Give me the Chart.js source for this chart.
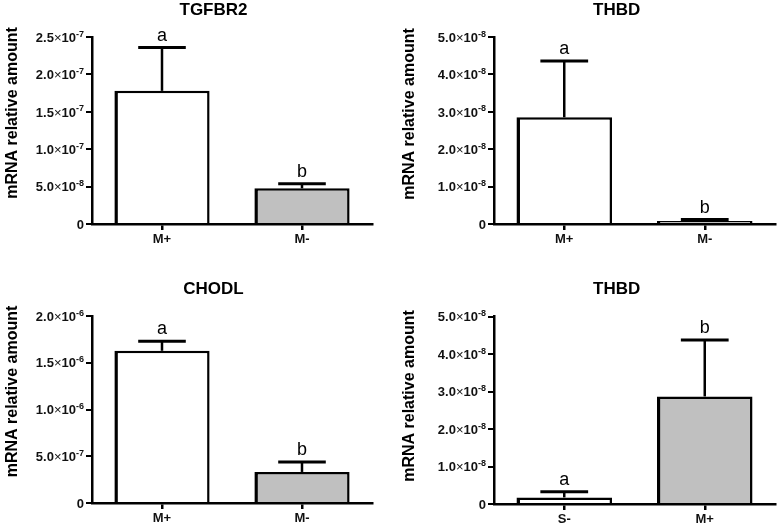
<!DOCTYPE html>
<html>
<head>
  <title>mRNA relative amount</title>
  <script src="https://cdn.jsdelivr.net/npm/chart.js"></script>
  <style>
    body { margin: 0; background: #fff; }
    #wrap { position: relative; width: 780px; height: 527px; }
    #wrap canvas { position: absolute; }
  </style>
</head>
<body>
  <div id="wrap">
    <canvas id="c0"></canvas>
    <canvas id="c1"></canvas>
    <canvas id="c2"></canvas>
    <canvas id="c3"></canvas>
  </div>

  <script>
    // Values
    const titles = ['TGFBR2', 'THBD', 'CHODL', 'THBD'];
    const categories = [['M+', 'M-'], ['M+', 'M-'], ['M+', 'M-'], ['S-', 'M+']];
    const means = [[1.78e-7, 0.477e-7], [2.853e-8, 0.08e-8], [1.628e-6, 0.332e-6], [0.176e-8, 2.868e-8]];
    const errors = [[0.579e-7, 0.062e-7], [1.505e-8, 0.04e-8], [0.101e-6, 0.107e-6], [0.152e-8, 1.503e-8]];
    const letters = [['a', 'b'], ['a', 'b'], ['a', 'b'], ['a', 'b']];
    const yMax = [2.5e-7, 5e-8, 2e-6, 5e-8];
    const yStep = [5e-8, 1e-8, 5e-7, 1e-8];
    const fills = [['#ffffff', '#c0c0c0'], ['#ffffff', '#c0c0c0'], ['#ffffff', '#c0c0c0'], ['#ffffff', '#c0c0c0']];

    // Panel placement on the page, chart area inside each canvas, text anchors
    const frames = [
      { left: 0, top: 0, w: 390, h: 260, area: [92, 37, 372, 224], title: [213.5, 15], yTitle: [13, 113] },
      { left: 390, top: 0, w: 390, h: 260, area: [104, 37, 385, 224], title: [226.7, 15], yTitle: [20, 114] },
      { left: 0, top: 260, w: 390, h: 267, area: [92, 56, 372, 243], title: [213.5, 33.5], yTitle: [13, 131.5] },
      { left: 390, top: 260, w: 390, h: 267, area: [104, 56.5, 385, 244], title: [226.7, 33.5], yTitle: [20, 136] }
    ];

    const FONT = '"Liberation Sans", Arial, sans-serif';

    // split a tick value into pieces: mantissa, times sign, base, exponent
    function sciParts(v) {
      if (Math.abs(v) < 1e-15) return [{ t: '0', f: 'bold 13px ' }];
      const [m, e] = v.toExponential(1).split('e');
      return [
        { t: m, f: 'bold 13px ' },
        { t: '\u00D7', f: '13px ' },
        { t: '10', f: 'bold 13px ' },
        { t: e.replace('+', ''), f: 'bold 9px ', sup: true }
      ];
    }

    // error bars, significance letters, titles, y tick labels
    function extras(k) {
      return {
        id: 'extras' + k,
        afterDatasetsDraw(chart) {
          const { ctx } = chart;
          const y = chart.scales.y;
          const f = frames[k];
          ctx.save();
          ctx.strokeStyle = '#000';
          ctx.fillStyle = '#000';
          chart.getDatasetMeta(0).data.forEach((bar, i) => {
            const top = y.getPixelForValue(means[k][i] + errors[k][i]);
            const half = bar.width / 4;
            ctx.lineWidth = 2.5;
            ctx.beginPath(); ctx.moveTo(bar.x, bar.y); ctx.lineTo(bar.x, top); ctx.stroke();
            ctx.lineWidth = 3;
            ctx.beginPath(); ctx.moveTo(bar.x - half, top); ctx.lineTo(bar.x + half, top); ctx.stroke();
            ctx.font = '18px ' + FONT;
            ctx.textAlign = 'center';
            ctx.textBaseline = 'alphabetic';
            ctx.fillText(letters[k][i], bar.x, top - 7);
          });

          // y tick labels with raised exponent
          ctx.fillStyle = '#111';
          ctx.textAlign = 'left';
          ctx.textBaseline = 'alphabetic';
          y.ticks.forEach(tick => {
            const py = y.getPixelForValue(tick.value);
            const parts = sciParts(tick.value);
            let w = 0;
            parts.forEach(p => { ctx.font = p.f + FONT; p.w = ctx.measureText(p.t).width; w += p.w; });
            let x = y.right - 6 - 2 - w;
            parts.forEach(p => {
              ctx.font = p.f + FONT;
              ctx.fillText(p.t, x, p.sup ? py - 0.5 : py + 4.7);
              x += p.w;
            });
          });

          ctx.fillStyle = '#000';
          ctx.font = 'bold 17px ' + FONT;
          ctx.textAlign = 'center';
          ctx.fillText(titles[k], f.title[0], f.title[1]);
          ctx.translate(f.yTitle[0], f.yTitle[1]);
          ctx.rotate(-Math.PI / 2);
          ctx.font = 'bold 16px ' + FONT;
          ctx.textBaseline = 'middle';
          ctx.fillText('mRNA relative amount', 0, 0);
          ctx.restore();
        }
      };
    }

    frames.forEach((f, k) => {
      const canvas = document.getElementById('c' + k);
      canvas.width = f.w;
      canvas.height = f.h;
      canvas.style.left = f.left + 'px';
      canvas.style.top = f.top + 'px';
      const [aL, aT, aR, aB] = f.area;
      new Chart(canvas.getContext('2d'), {
        type: 'bar',
        data: {
          labels: categories[k],
          datasets: [{
            data: means[k],
            backgroundColor: fills[k],
            borderColor: '#000',
            borderWidth: { left: 3.5, top: 2.5, right: 2.5, bottom: 0 },
            borderSkipped: 'start',
            categoryPercentage: 1,
            barPercentage: 0.68
          }]
        },
        options: {
          responsive: false,
          animation: false,
          layout: { padding: { left: 0, top: aT, right: f.w - aR, bottom: 0 } },
          plugins: { legend: { display: false }, tooltip: { enabled: false } },
          scales: {
            x: {
              z: 1,
              afterFit: s => { s.height = f.h - aB; s.paddingLeft = 0; s.paddingRight = 0; },
              border: { display: true, color: '#000', width: 2.5 },
              grid: { drawOnChartArea: false, drawTicks: true, offset: false, tickLength: 6, tickColor: '#000', lineWidth: 2.5 },
              ticks: { color: '#111', padding: 2, font: { family: FONT, size: 13, weight: 'bold' } }
            },
            y: {
              min: 0,
              max: yMax[k],
              afterFit: s => { s.width = aL; s.paddingTop = 0; s.paddingBottom = 0; },
              border: { display: true, color: '#000', width: 2.5 },
              grid: { drawOnChartArea: false, drawTicks: true, tickLength: 6, tickColor: '#000', lineWidth: 2 },
              ticks: { stepSize: yStep[k], display: false }
            }
          }
        },
        plugins: [extras(k)]
      });
    });
  </script>
</body>
</html>
